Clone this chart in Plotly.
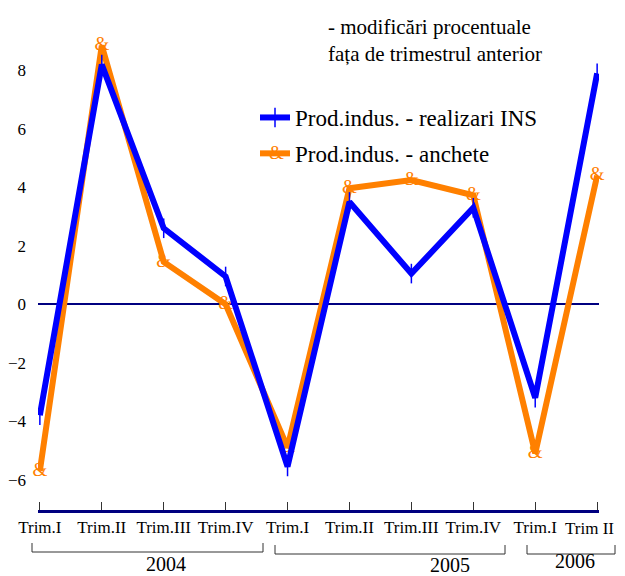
import plotly.graph_objects as go

# page body adds an 8px offset; work in reference pixel coordinates and shift
OFF = 8
W, H = 609, 568
ML, MR, MT, MB = 30, 18, 4, 66

categories = ["Trim.I", "Trim.II", "Trim.III", "Trim.IV",
              "Trim.I", "Trim.II", "Trim.III", "Trim.IV",
              "Trim.I", "Trim II"]
realizari_ins = [-3.8, 8.2, 2.6, 0.95, -5.55, 3.5, 1.05, 3.3, -3.2, 7.9]
anchete = [-5.7, 8.85, 1.45, 0.0, -4.9, 3.97, 4.25, 3.73, -5.1, 4.4]
years = ["2004", "2005", "2006"]
y_ticks = [-6, -4, -2, 0, 2, 4, 6, 8]

xs = list(range(len(categories)))
BLUE = "#0000FF"
ORANGE = "#FF8000"
NAVY = "#000080"
FONT = "Liberation Serif"


def px_x(p):
    return (p - OFF - ML) / (W - ML - MR)


def px_y(p):
    return (H - MB - (p - OFF)) / (H - MT - MB)


fig = go.Figure()
fig.add_trace(go.Scatter(
    x=xs, y=anchete, mode="lines", name="Prod.indus. - anchete",
    line=dict(color=ORANGE, width=6), legendrank=2, legendgroup="b",
))
fig.add_trace(go.Scatter(
    x=xs, y=anchete, mode="text", text=["&"] * len(xs),
    textposition="middle center", showlegend=False,
    textfont=dict(family=FONT, size=19, color=ORANGE), cliponaxis=False,
))
fig.add_trace(go.Scatter(
    x=xs, y=realizari_ins, mode="lines+markers", name="Prod.indus. - realizari INS",
    line=dict(color=BLUE, width=6), legendrank=1, legendgroup="a",
    marker=dict(symbol="line-ns", size=14, line=dict(color=BLUE, width=1.5)),
    cliponaxis=False,
))

shapes = []
annotations = []
# year brackets (reference pixel positions)
brackets = [(32, 263, 543, 552), (275, 505, 545, 554), (527, 615, 545, 554)]
for x0, x1, yt, yb in brackets:
    shapes.append(dict(type="path", xref="paper", yref="paper",
                       path=f"M{px_x(x0)},{px_y(yt)} L{px_x(x0)},{px_y(yb)} L{px_x(x1)},{px_y(yb)} L{px_x(x1)},{px_y(yt)}",
                       line=dict(color="#333333", width=1)))
year_pos = [(166, 564), (450, 565), (575, 561)]
for yr, (cx, cy) in zip(years, year_pos):
    annotations.append(dict(text=yr, x=px_x(cx), y=px_y(cy), xref="paper", yref="paper",
                            showarrow=False, xanchor="center", yanchor="middle",
                            font=dict(family=FONT, size=20, color="black")))
annotations.append(dict(text="- modificări procentuale<br>fața de trimestrul anterior",
                        x=px_x(326), y=px_y(13), xref="paper", yref="paper",
                        showarrow=False, xanchor="left", yanchor="top", align="left",
                        font=dict(family=FONT, size=21, color="black")))
# "&" glyph on the legend's orange line
annotations.append(dict(text="&", x=px_x(276), y=px_y(153), xref="paper", yref="paper",
                        showarrow=False, xanchor="center", yanchor="middle",
                        font=dict(family=FONT, size=19, color=ORANGE)))
# last category label kept inside the visible page edge
tick_text = categories[:-1] + [""]
annotations.append(dict(text=categories[-1], x=px_x(616), y=px_y(528), xref="paper", yref="paper",
                        showarrow=False, xanchor="right", yanchor="middle",
                        font=dict(family=FONT, size=17, color="black")))

fig.update_layout(
    width=W, height=H,
    margin=dict(l=ML, r=MR, t=MT, b=MB),
    plot_bgcolor="white", paper_bgcolor="white",
    font=dict(family=FONT, size=17, color="black"),
    showlegend=True,
    legend=dict(x=px_x(255), y=px_y(96), xanchor="left", yanchor="top",
                xref="paper", yref="paper", bgcolor="rgba(0,0,0,0)",
                font=dict(family=FONT, size=23, color="black"),
                traceorder="grouped", tracegroupgap=3, itemwidth=30),
    shapes=shapes,
    annotations=annotations,
    xaxis=dict(range=[-0.03, 9.03], tickmode="array", tickvals=xs, ticktext=tick_text,
               showgrid=False, zeroline=False, showline=True, linecolor=NAVY, linewidth=3,
               ticks="inside", ticklen=8, tickcolor="#333333", tickwidth=1,
               tickfont=dict(family=FONT, size=17, color="black"), automargin=False),
    yaxis=dict(range=[-7.04, 10], tickmode="array", tickvals=y_ticks,
               showgrid=False, zeroline=True, zerolinecolor=NAVY, zerolinewidth=2,
               showline=False, ticks="", ticklabelstandoff=11, automargin=False,
               tickfont=dict(family=FONT, size=17, color="black")),
)

fig.write_html("out.html")
